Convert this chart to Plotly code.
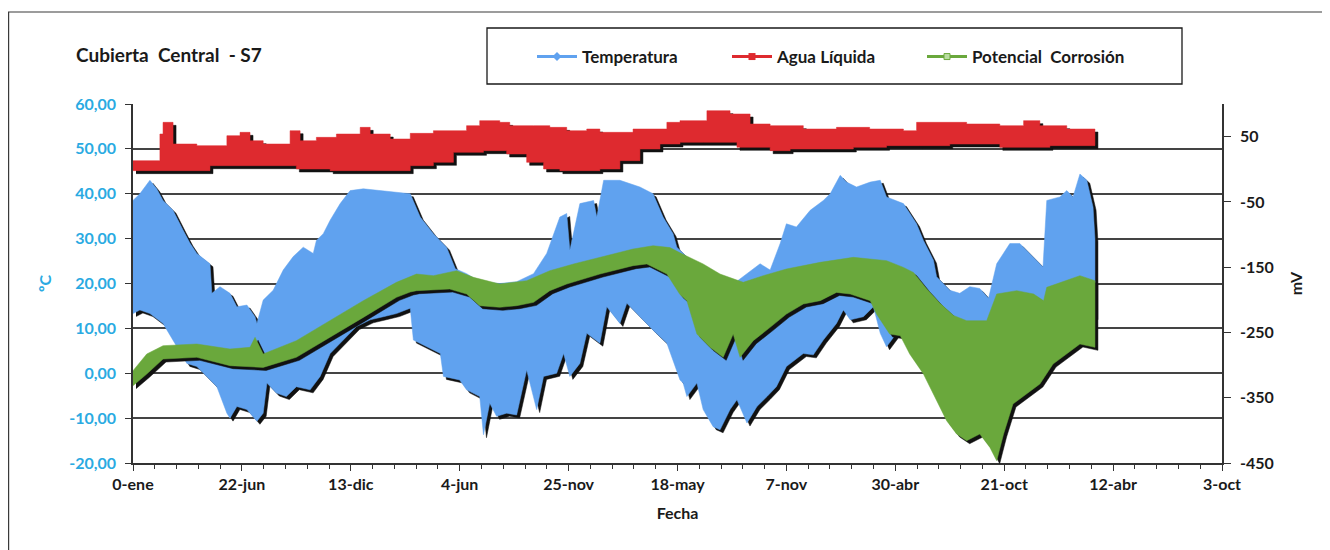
import plotly.graph_objects as go

# ---------------- data ----------------
x_tickvals = [0, 174, 348, 522, 696, 870, 1044, 1218, 1392, 1566, 1740]
x_ticktext = ["0-ene", "22-jun", "13-dic", "4-jun", "25-nov", "18-may",
              "7-nov", "30-abr", "21-oct", "12-abr", "3-oct"]
temp_tickvals = [60, 50, 40, 30, 20, 10, 0, -10, -20]
temp_ticktext = ["60,00", "50,00", "40,00", "30,00", "20,00", "10,00",
                 "0,00", "-10,00", "-20,00"]
mv_tickvals = [50, -50, -150, -250, -350, -450]
mv_ticktext = ["50", "-50", "-150", "-250", "-350", "-450"]

# Temperatura (ºC) - upper / lower envelope of the daily band
temp_hi_day = [0, 11, 27, 38, 48, 64, 80, 91, 102, 123, 126, 139, 155, 166, 182,
               195, 198, 208, 224, 240, 256, 272, 288, 293, 304, 315, 331, 347,
               368, 400, 443, 459, 480, 501, 515, 533, 554, 586, 613, 640, 661,
               682, 693, 698, 714, 736, 741, 752, 778, 810, 831, 847, 863, 869,
               885, 911, 964, 1002, 1018, 1034, 1044, 1060, 1082, 1103, 1114,
               1130, 1140, 1156, 1178, 1194, 1204, 1231, 1252, 1263, 1279, 1284,
               1305, 1321, 1337, 1353, 1367, 1380, 1401, 1417, 1433, 1454, 1460,
               1481, 1492, 1502, 1513, 1524, 1534, 1537]
temp_hi = [38.5, 40.0, 43.0, 41.1, 38.5, 36.3, 31.9, 29.0, 26.7, 24.4, 17.8, 19.3,
           17.8, 14.8, 15.2, 12.6, 11.1, 16.3, 18.5, 23.0, 26.0, 28.1, 26.7, 29.6,
           31.1, 34.1, 37.8, 40.7, 41.1, 40.7, 40.0, 34.8, 31.1, 28.1, 23.3, 22.2,
           20.4, 20.0, 20.4, 22.2, 26.7, 34.8, 35.6, 27.4, 37.8, 38.5, 34.8, 43.0,
           43.0, 41.5, 40.0, 34.8, 31.1, 28.1, 25.9, 23.0, 20.4, 24.4, 23.0, 28.9,
           33.3, 32.6, 36.3, 38.5, 40.0, 44.1, 42.6, 41.5, 42.6, 43.0, 39.3, 37.8,
           33.3, 29.6, 25.2, 21.5, 18.5, 17.8, 19.3, 18.9, 16.7, 24.4, 28.9, 28.9,
           26.7, 23.7, 38.5, 39.3, 40.7, 39.3, 44.4, 43.0, 37.0, 30.0]
temp_lo_day = [0, 11, 27, 48, 64, 86, 102, 118, 134, 150, 155, 166, 182, 198, 208,
               214, 229, 245, 261, 283, 299, 315, 336, 357, 379, 400, 421, 443,
               448, 469, 491, 496, 522, 533, 554, 560, 570, 581, 597, 613, 629,
               645, 656, 677, 688, 698, 714, 725, 746, 757, 778, 789, 810, 831,
               853, 874, 879, 885, 901, 911, 927, 938, 954, 965, 981, 997, 1013,
               1028, 1044, 1071, 1087, 1103, 1124, 1135, 1146, 1167, 1183, 1194,
               1204, 1220, 1231, 1252, 1284, 1321, 1364, 1401, 1449, 1492, 1537]
temp_lo = [13.3, 14.1, 13.3, 11.1, 7.4, 2.2, 1.5, -0.7, -3.0, -8.9, -10.0, -7.4,
           -8.1, -10.7, -8.9, -2.2, -4.4, -5.2, -3.0, -3.7, -0.7, 4.4, 7.4, 10.4,
           11.9, 12.6, 13.3, 14.5, 7.4, 5.9, 4.4, -0.7, -1.5, -3.7, -5.2, -13.7,
           -6.7, -9.6, -8.9, -9.3, 0.7, -8.1, -0.7, 0.0, 4.4, -0.7, 2.2, 8.9, 6.7,
           14.8, 11.1, 15.6, 12.6, 9.6, 6.7, -1.5, -2.2, -5.2, -2.2, -8.1, -11.9,
           -12.6, -8.1, -5.9, -11.1, -7.4, -5.2, -3.0, 1.5, 4.4, 4.1, 7.4, 11.1,
           14.1, 11.9, 12.6, 14.8, 8.9, 5.9, 8.9, 8.1, 8.9, 8.9, 8.1, 8.9, 10.4,
           10.4, 12.6, 12.6]

# Agua Líquida (mV)
agua_hi_day = [0, 40, 43, 48, 62, 64, 102, 144, 150, 171, 187, 208, 251, 267, 293,
               325, 363, 379, 411, 443, 480, 533, 554, 586, 602, 640, 666, 693,
               725, 746, 799, 853, 874, 890, 917, 954, 986, 1018, 1071, 1124,
               1177, 1231, 1252, 1305, 1332, 1385, 1423, 1449, 1492, 1537]
agua_hi = [13.2, 13.2, 54.0, 71.9, 71.9, 38.7, 36.2, 36.2, 51.5, 56.6, 43.8, 38.7,
           59.1, 43.8, 48.9, 54.0, 64.2, 54.0, 46.4, 55.0, 59.1, 66.8, 74.5, 71.9,
           66.8, 66.8, 64.2, 59.1, 61.7, 56.6, 61.7, 71.9, 74.5, 74.5, 89.8, 84.7,
           69.4, 66.8, 61.7, 64.2, 61.7, 59.1, 71.9, 71.9, 69.4, 66.8, 74.5, 66.8,
           61.7, 59.1]
agua_lo_day = [0, 123, 134, 261, 315, 357, 443, 480, 512, 560, 597, 629, 656, 682,
               714, 746, 778, 810, 842, 874, 911, 965, 1018, 1050, 1098, 1151,
               1204, 1257, 1305, 1385, 1465, 1537]
agua_lo = [-2.1, -2.1, 5.5, 5.5, 0.4, -2.1, -2.1, 5.5, 10.6, 25.9, 28.5, 23.4,
           10.6, 0.4, -2.1, -2.1, 0.4, 13.2, 31.1, 38.7, 41.3, 41.3, 33.6, 28.5,
           31.1, 31.1, 33.6, 36.2, 36.2, 38.7, 33.6, 36.2]

# Potencial Corrosión (mV)
pot_hi_day = [0, 22, 48, 102, 155, 187, 195, 208, 261, 315, 368, 421, 443, 453,
              480, 517, 544, 586, 629, 666, 704, 746, 799, 831, 858, 874, 911,
              938, 975, 1007, 1044, 1098, 1151, 1204, 1231, 1247, 1268, 1289,
              1311, 1332, 1364, 1380, 1412, 1439, 1455, 1460, 1492, 1513, 1537]
pot_hi = [-308.6, -283.0, -270.3, -267.7, -275.4, -272.8, -257.5, -283.0, -262.6,
          -232.0, -201.3, -173.2, -165.0, -160.5, -163.0, -155.4, -165.6, -175.8,
          -170.7, -155.4, -145.1, -134.9, -122.2, -117.1, -120.0, -128.0, -145.1,
          -160.5, -173.2, -163.0, -152.8, -142.6, -134.9, -140.0, -150.3, -158.0,
          -183.0, -205.0, -224.0, -232.0, -232.0, -191.1, -186.0, -191.1, -201.3,
          -180.9, -170.7, -163.0, -170.7]
pot_lo_day = [0, 22, 48, 102, 155, 208, 261, 315, 368, 421, 443, 453, 506, 533,
              554, 586, 613, 640, 666, 693, 746, 799, 821, 853, 874, 885, 901,
              922, 943, 959, 970, 991, 1018, 1044, 1071, 1098, 1124, 1146, 1178,
              1188, 1209, 1226, 1241, 1263, 1284, 1300, 1316, 1332, 1353, 1369,
              1380, 1391, 1406, 1428, 1449, 1470, 1492, 1513, 1537]
pot_lo = [-331.6, -313.7, -290.7, -288.1, -300.9, -303.5, -288.1, -257.5, -226.9,
          -196.2, -188.0, -186.0, -183.5, -191.1, -209.0, -211.5, -209.0, -203.9,
          -186.0, -175.8, -160.5, -147.7, -145.1, -160.5, -192.0, -201.3, -252.4,
          -272.8, -288.1, -252.4, -288.1, -262.6, -242.2, -221.8, -206.4, -201.3,
          -188.6, -191.1, -201.3, -221.8, -252.4, -255.0, -283.0, -313.7, -354.5,
          -385.2, -405.6, -415.8, -405.6, -426.0, -446.5, -405.6, -359.6, -344.3,
          -329.0, -298.4, -283.0, -267.7, -272.8]

# ---------------- styling ----------------
BLUE = "#60A2EF"
RED = "#DE2A2F"
GREEN = "#6AA83C"
TICKBLUE = "#2AAAE2"
GRID = "#444444"
INK = "#1A1A1A"
FONT = "Lato, 'Open Sans', sans-serif"

OFF = 8                     # default page margin of the html body
W, H = 1330 - OFF, 550 - OFF
SH = 3                      # shadow offset in px
# plot area in window pixels: x 133..1222, y 104..463
L = 133 - OFF
T = 104 - OFF
R = W - (1222 + SH - OFF)
B = H - (463 + SH - OFF)
PW = W - L - R
PH = H - T - B
dx = (PW - SH) / PW
dy = SH / PH
MAIN_X = [0, dx]
SHAD_X = [1 - dx, 1]
MAIN_Y = [dy, 1]
SHAD_Y = [0, 1 - dy]
XR = [0, 1740]
TR = [-20, 60]
MR = [-450, 100]

# minor tick positions: 5 subdivisions of each labelled interval
minor_vals = [a + k * (b - a) / 5 for a, b in zip(x_tickvals[:-1], x_tickvals[1:])
              for k in range(1, 5)]


def fx(px):   # window px -> paper fraction
    return (px - OFF - L) / PW


def fy(py):
    return (H - B - (py - OFF)) / PH


def band(hx, hy, lx, ly):
    return list(hx) + list(lx)[::-1], list(hy) + list(ly)[::-1]


fig = go.Figure()

# legend-only traces on the base subplot
fig.add_trace(go.Scatter(x=[None], y=[None], mode="lines+markers", name="Temperatura",
                         line=dict(color=BLUE, width=3),
                         marker=dict(symbol="diamond", size=7, color=BLUE),
                         xaxis="x", yaxis="y"))
fig.add_trace(go.Scatter(x=[None], y=[None], mode="lines+markers", name="Agua Líquida",
                         line=dict(color=RED, width=3),
                         marker=dict(symbol="square", size=7, color=RED),
                         xaxis="x", yaxis="y2"))
fig.add_trace(go.Scatter(x=[None], y=[None], mode="lines+markers",
                         name="Potencial  Corrosión",
                         line=dict(color=GREEN, width=3),
                         marker=dict(symbol="square", size=6, color="#B9DCA0",
                                     line=dict(color=GREEN, width=1)),
                         xaxis="x", yaxis="y2"))
# spacer entry so the last legend label is not clipped
fig.add_trace(go.Scatter(x=[None], y=[None], mode="lines", name=" ",
                         line=dict(color="rgba(0,0,0,0)", width=0),
                         xaxis="x", yaxis="y2", hoverinfo="skip"))

series = [
    (temp_hi_day, temp_hi, temp_lo_day, temp_lo, BLUE, "linear", ("x2", "y3"), ("x3", "y4")),
    (agua_hi_day, agua_hi, agua_lo_day, agua_lo, RED, "hv", ("x4", "y5"), ("x5", "y6")),
    (pot_hi_day, pot_hi, pot_lo_day, pot_lo, GREEN, "linear", ("x6", "y7"), ("x7", "y8")),
]
for hx, hy, lx, ly, col, shape, shad, main in series:
    bx, by = band(hx, hy, lx, ly)
    fig.add_trace(go.Scatter(x=bx, y=by, mode="lines", fill="toself",
                             fillcolor="#111111",
                             line=dict(width=0.5, color="#111111", shape=shape),
                             xaxis=shad[0], yaxis=shad[1], showlegend=False,
                             hoverinfo="skip"))
    fig.add_trace(go.Scatter(x=bx, y=by, mode="lines", fill="toself",
                             fillcolor=col, line=dict(width=0.5, color=col, shape=shape),
                             xaxis=main[0], yaxis=main[1], showlegend=False,
                             hoverinfo="skip"))

tickfont = dict(family=FONT, size=16, color=INK, weight="bold")

layout = dict(
    width=W, height=H,
    margin=dict(l=L, r=R, t=T, b=B, autoexpand=False),
    paper_bgcolor="white", plot_bgcolor="rgba(0,0,0,0)",
    font=dict(family=FONT, color=INK),
    showlegend=True,
    legend=dict(orientation="h", x=fx(532), y=fy(57),
                xanchor="left", yanchor="middle", bgcolor="rgba(0,0,0,0)",
                borderwidth=0, itemwidth=40, entrywidth=140, entrywidthmode="pixels",
                font=dict(family=FONT, size=17, color=INK, weight="bold")),
    xaxis=dict(domain=MAIN_X, range=XR, anchor="y", tickmode="array",
               tickvals=x_tickvals, ticktext=x_ticktext, ticks="outside",
               ticklen=6, tickwidth=1.3, tickcolor="#333",
               minor=dict(tickmode="array", tickvals=minor_vals, ticks="outside",
                          ticklen=4, tickwidth=1, tickcolor="#333", showgrid=False),
               showline=True, linecolor="#333", linewidth=1.5, showgrid=False,
               zeroline=False, tickfont=tickfont, automargin=False,
               title=dict(text="Fecha", standoff=16,
                          font=dict(family=FONT, size=16, color=INK, weight="bold"))),
    yaxis=dict(domain=MAIN_Y, range=TR, anchor="x", tickmode="array",
               tickvals=temp_tickvals, ticktext=temp_ticktext, ticks="outside",
               ticklen=6, tickwidth=1.3, tickcolor="#333", ticklabelstandoff=6,
               showline=True, linecolor="#333", linewidth=1.5, automargin=False,
               showgrid=True, gridcolor=GRID, gridwidth=1.6, zeroline=False,
               tickfont=dict(family=FONT, size=16, color=TICKBLUE, weight="bold"),
               title=dict(text="ºC", standoff=14,
                          font=dict(family=FONT, size=16, color=TICKBLUE,
                                    weight="bold"))),
    yaxis2=dict(overlaying="y", side="right", anchor="x", range=MR,
                tickmode="array", tickvals=mv_tickvals, ticktext=mv_ticktext,
                ticks="outside", ticklen=7, tickwidth=1.3, tickcolor="#333",
                ticklabelstandoff=6, automargin=False,
                showline=True, linecolor="#333", linewidth=1.5, showgrid=False,
                zeroline=False, tickfont=tickfont,
                title=dict(text="mV", standoff=18,
                           font=dict(family=FONT, size=16, color=INK,
                                     weight="bold"))),
)

# hidden axes for the band layers (shadow + main, one pair per series)
pairs = [("x2", "y3", SHAD_X, SHAD_Y, TR), ("x3", "y4", MAIN_X, MAIN_Y, TR),
         ("x4", "y5", SHAD_X, SHAD_Y, MR), ("x5", "y6", MAIN_X, MAIN_Y, MR),
         ("x6", "y7", SHAD_X, SHAD_Y, MR), ("x7", "y8", MAIN_X, MAIN_Y, MR)]
for xa, ya, xd, yd, yr in pairs:
    layout["xaxis" + xa[1:]] = dict(domain=xd, range=XR, anchor=ya, visible=False,
                                    showgrid=False, zeroline=False, fixedrange=True)
    layout["yaxis" + ya[1:]] = dict(domain=yd, range=yr, anchor=xa, visible=False,
                                    showgrid=False, zeroline=False, fixedrange=True)

fig.update_layout(**layout)

# outer chart frame (its bottom lies below the visible window) and legend frame
fig.add_shape(type="rect", xref="paper", yref="paper",
              x0=fx(8.6), x1=fx(1327), y0=fy(556), y1=fy(12),
              line=dict(color="#3A3A3A", width=1.2), layer="below")
fig.add_shape(type="rect", xref="paper", yref="paper",
              x0=fx(487), x1=fx(1182), y0=fy(84), y1=fy(28),
              line=dict(color=INK, width=1.3), layer="below")

fig.add_annotation(text="Cubierta\u00a0 Central\u00a0 - S7", xref="paper", yref="paper",
                   x=fx(74), y=fy(55), xanchor="left", yanchor="middle",
                   showarrow=False,
                   font=dict(family=FONT, size=19, color=INK, weight="bold"))

fig.write_html("out.html")
